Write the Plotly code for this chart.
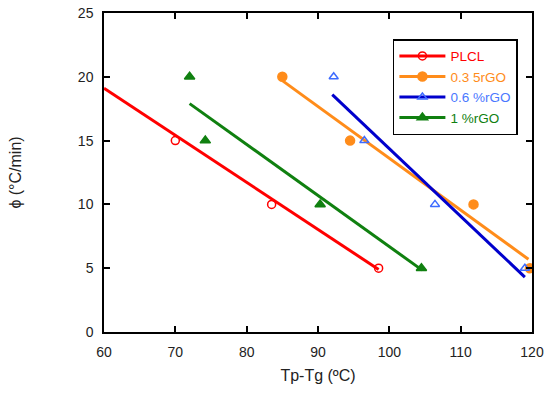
import plotly.graph_objects as go

# Data points (Tp-Tg, phi)
plcl_x = [70.0, 83.5, 98.5]
plcl_y = [15, 10, 5]
r035_x = [85.0, 94.5, 111.8, 119.7]
r035_y = [20, 15, 10, 5]
r06_x = [92.2, 96.5, 106.4, 119.0]
r06_y = [20, 15, 10, 5]
r1_x = [72.0, 74.2, 90.3, 104.5]
r1_y = [20, 15, 10, 5]

# Trend lines
plcl_fit_x = [60.0, 98.5]
plcl_fit_y = [19.1, 4.9]
r035_fit_x = [85.0, 119.5]
r035_fit_y = [19.7, 5.7]
r06_fit_x = [92.0, 119.0]
r06_fit_y = [18.6, 4.3]
r1_fit_x = [72.0, 104.6]
r1_fit_y = [17.9, 4.85]

x_ticks = [60, 70, 80, 90, 100, 110, 120]
y_ticks = [0, 5, 10, 15, 20, 25]

series = [
    ("PLCL", plcl_x, plcl_y, plcl_fit_x, plcl_fit_y, "#FF0000", "#FF0000", "#FF0000", "circle-open", 8),
    ("0.3 5rGO", r035_x, r035_y, r035_fit_x, r035_fit_y, "#FF8C1A", "#FF8C1A", "#FF8C1A", "circle", 9),
    ("0.6 %rGO", r06_x, r06_y, r06_fit_x, r06_fit_y, "#0000CC", "#3D6BFF", "#4A78FF", "triangle-up-open", 8),
    ("1 %rGO", r1_x, r1_y, r1_fit_x, r1_fit_y, "#108010", "#108010", "#108010", "triangle-up", 9),
]

fig = go.Figure()
for name, x, y, fx, fy, lc, mc, tc, sym, ms in series:
    fig.add_trace(go.Scatter(x=fx, y=fy, mode="lines", line=dict(color=lc, width=3),
                             showlegend=False, hoverinfo="skip"))
    fig.add_trace(go.Scatter(x=x, y=y, mode="markers",
                             marker=dict(color=mc, symbol=sym, size=ms, line=dict(color=mc, width=1.5)),
                             showlegend=False))
    fig.add_trace(go.Scatter(x=[None], y=[None], mode="lines+markers",
                             name=f"<span style='color:{tc}'>{name}</span>",
                             line=dict(color=lc, width=3),
                             marker=dict(color=mc, symbol=sym, size=ms, line=dict(color=mc, width=1.5))))

axis_common = dict(showline=True, linecolor="black", linewidth=1.5, mirror="ticks",
                   ticks="inside", ticklen=6, tickwidth=1.5, tickcolor="black",
                   showgrid=False, zeroline=False, automargin=False,
                   tickfont=dict(family="Liberation Sans, Arial", size=14, color="#222"))

fig.update_layout(
    width=550, height=394,
    margin=dict(l=104, r=18, t=13, b=62),
    paper_bgcolor="white", plot_bgcolor="white",
    font=dict(family="Liberation Sans, Arial", size=14, color="black"),
    xaxis=dict(range=[60, 120], tickvals=x_ticks, ticklabelstandoff=6,
               title=dict(text="Tp-Tg (ºC)", font=dict(size=16, color="#222"), standoff=11),
               **axis_common),
    yaxis=dict(range=[0, 25], tickvals=y_ticks, ticklabelstandoff=6,
               title=dict(text="ϕ (°C/min)", font=dict(size=16, color="#222"), standoff=52),
               **axis_common),
    legend=dict(x=0.675, y=0.918, xanchor="left", yanchor="top",
                bordercolor="black", borderwidth=1.5, bgcolor="white",
                font=dict(size=13.5), tracegroupgap=0, itemwidth=46),
)

fig.write_html("out.html", config={"displayModeBar": False},
               post_script="document.body.style.margin='0';")
